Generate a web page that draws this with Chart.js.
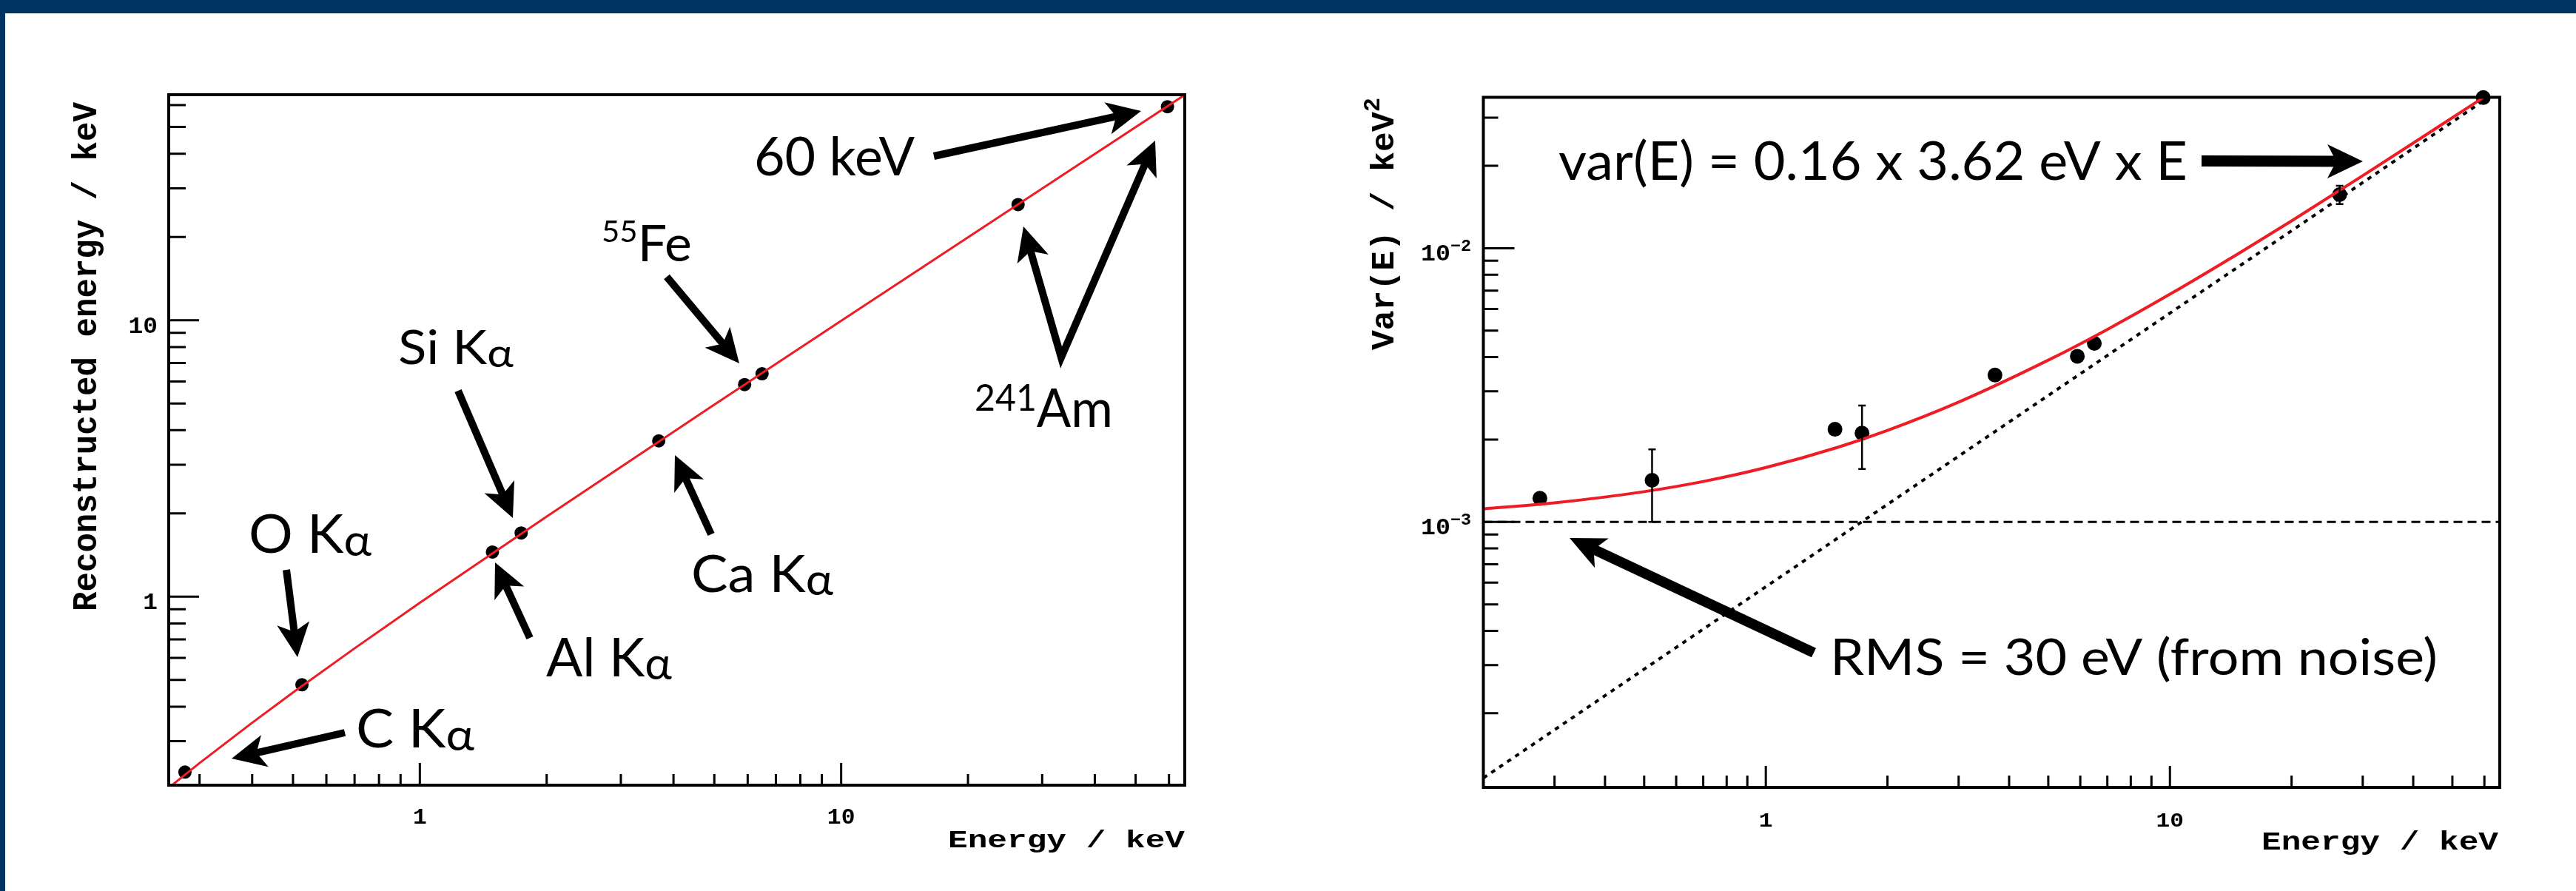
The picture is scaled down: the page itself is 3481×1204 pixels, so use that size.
<!DOCTYPE html>
<html>
<head>
<meta charset="utf-8">
<script src="https://cdn.jsdelivr.net/npm/chart.js@4.4.1/dist/chart.umd.min.js"></script>
<style>
  html, body { margin: 0; padding: 0; background: #fff; }
  #page { position: relative; width: 3481px; height: 1204px; overflow: hidden; background: #fff; }
  canvas { position: absolute; top: 0; }
  #left { left: 0; }
  #right { left: 1740px; }
  .band { position: absolute; background: #003462; z-index: 2; }
</style>
</head>
<body>
<div id="page">
  <canvas id="left" width="1740" height="1204"></canvas>
  <canvas id="right" width="1741" height="1204"></canvas>
  <div class="band" style="left:0;top:0;width:3481px;height:18px"></div>
  <div class="band" style="left:0;top:0;width:7px;height:1204px"></div>
</div>
<script>
// Left panel: reconstructed energy vs line energy (keV)
const lineEnergies = [0.277, 0.525, 1.487, 1.740, 3.69, 5.90, 6.49, 26.3, 59.5];
const reconstructed = [0.232, 0.480, 1.45, 1.70, 3.66, 5.85, 6.40, 26.2, 59.2];
// calibration fit
const calibFitE = [0.2575, 0.3, 0.4, 0.5, 0.7, 1, 2, 5, 10, 30, 65.5];
const calibFitReco = [0.2075, 0.25, 0.35, 0.45, 0.65, 0.95, 1.95, 4.95, 9.95, 29.95, 65.45];

// Right panel: variance vs energy (keV^2)
const varEnergies = [0.276, 0.523, 1.483, 1.73, 3.69, 5.90, 6.50, 26.3, 59.6];
const variance = [1.22e-3, 1.42e-3, 2.18e-3, 2.11e-3, 3.44e-3, 4.03e-3, 4.49e-3, 1.57e-2, 3.55e-2];
const varianceErr = [0, 0.42e-3, 0, 0.55e-3, 0, 0, 0, 1.2e-3, 0];
// red fit curve
const varFitE = [0.2, 0.3, 0.5, 0.7, 1, 1.5, 2, 3, 5, 7, 10, 15, 20, 30, 45, 61.5];
const varFit = [1.116e-3, 1.174e-3, 1.29e-3, 1.405e-3, 1.58e-3, 1.87e-3, 2.16e-3, 2.74e-3,
                3.9e-3, 5.05e-3, 6.79e-3, 9.69e-3, 12.58e-3, 18.4e-3, 27.1e-3, 36.6e-3];
// noise floor (dashed) and Fano term (dotted)
const noiseE = [0.2, 65.5];
const noiseVar = [1e-3, 1e-3];
const fanoE = [0.2, 61.5];
const fanoVar = [1.16e-4, 3.56e-2];

// ticks
const majorTicks = [1, 10];
const majorTickLabels = ['1', '10'];
const minorTicks = [0.3, 0.4, 0.5, 0.6, 0.7, 0.8, 0.9, 2, 3, 4, 5, 6, 7, 8, 9, 20, 30, 40, 50, 60];
const varMajorTicks = [1e-3, 1e-2];
const varTickExponents = ['\u22123', '\u22122'];
const varMinorTicks = [2e-4, 3e-4, 4e-4, 5e-4, 6e-4, 7e-4, 8e-4, 9e-4,
                       2e-3, 3e-3, 4e-3, 5e-3, 6e-3, 7e-3, 8e-3, 9e-3, 2e-2, 3e-2];

const RED = '#ee1c24';
const MONO = 'bold SIZE "Liberation Mono", "DejaVu Sans Mono", monospace';
const SANS = 'SIZE Lato, "Open Sans", sans-serif';
const pts = (xs, ys) => xs.map((x, i) => ({ x, y: ys[i] }));

const capCache = {};
function capRatio(ctx, fam) {
  if (!(fam in capCache)) {
    ctx.font = fam.replace('SIZE', '100px');
    capCache[fam] = ctx.measureText('H').actualBoundingBoxAscent / 100;
  }
  return capCache[fam];
}

// text fitted to a cap height and (optionally) a total width
function drawText(ctx, s) {
  const size = s.cap / capRatio(ctx, s.font);
  const font = k => s.font.replace('SIZE', (size * k).toFixed(2) + 'px');
  let W = 0;
  const widths = s.runs.map(r => {
    ctx.font = font(r.s || 1);
    const w = ctx.measureText(r.t).width;
    W += w;
    return w;
  });
  const sx = s.w ? s.w / W : (s.sx || 1);
  ctx.save();
  ctx.translate(s.x, s.y);
  if (s.vertical) ctx.rotate(-Math.PI / 2);
  ctx.scale(sx, 1);
  ctx.fillStyle = '#000';
  ctx.textAlign = 'left';
  ctx.textBaseline = 'alphabetic';
  let x = s.align === 'right' ? -W : s.align === 'center' ? -W / 2 : 0;
  s.runs.forEach((r, i) => {
    ctx.font = font(r.s || 1);
    ctx.fillText(r.t, x, (r.dy || 0) * size);
    x += widths[i];
  });
  ctx.restore();
}

function drawArrow(ctx, a) {
  const p = a.p.map(q => q.slice());
  const heads = [];
  const head = (tip, from) => {
    const dx = tip[0] - from[0], dy = tip[1] - from[1], l = Math.hypot(dx, dy);
    const ux = dx / l, uy = dy / l;
    heads.push({ tip: tip.slice(), ux, uy });
    return [tip[0] - ux * a.L * 0.65, tip[1] - uy * a.L * 0.65];
  };
  const n = p.length - 1;
  p[n] = head(p[n], p[n - 1]);
  if (a.both) p[0] = head(p[0], p[1]);
  ctx.save();
  ctx.strokeStyle = '#000';
  ctx.fillStyle = '#000';
  ctx.lineWidth = a.w;
  ctx.lineCap = 'butt';
  ctx.lineJoin = 'miter';
  ctx.miterLimit = 20;
  ctx.beginPath();
  ctx.moveTo(p[0][0], p[0][1]);
  for (let i = 1; i <= n; i++) ctx.lineTo(p[i][0], p[i][1]);
  ctx.stroke();
  heads.forEach(h => {
    const bx = h.tip[0] - h.ux * a.L, by = h.tip[1] - h.uy * a.L;
    const nx = h.tip[0] - h.ux * a.L * 0.75, ny = h.tip[1] - h.uy * a.L * 0.75;
    ctx.beginPath();
    ctx.moveTo(h.tip[0], h.tip[1]);
    ctx.lineTo(bx - h.uy * a.H, by + h.ux * a.H);
    ctx.lineTo(nx, ny);
    ctx.lineTo(bx + h.uy * a.H, by - h.ux * a.H);
    ctx.closePath();
    ctx.fill();
  });
  ctx.restore();
}

const sansText = (x, y, cap, w, runs) => ({ font: SANS, x, y, cap, w, runs });
const kAlpha = t => [{ t: t + ' K' }, { t: '\u03b1', s: 0.85, dy: 0.06 }];

const panels = {
  left: {
    xTicks: { major: majorTicks, minor: minorTicks, majLen: 30, minLen: 15 },
    yTicks: { major: majorTicks, minor: minorTicks, majLen: 41, minLen: 23 },
    xLabels: majorTicks.map((v, i) => ({ v, runs: [{ t: majorTickLabels[i] }] })),
    yLabels: majorTicks.map((v, i) => ({ v, runs: [{ t: majorTickLabels[i] }] })),
    xLabelStyle: { cap: 20, sx: 1.05, base: 1113 },
    yLabelStyle: { cap: 21, sx: 1.05, right: 213, dy: 17 },
    titles: [
      { font: MONO, runs: [{ t: 'Energy / keV' }], cap: 22, w: 320, x: 1601, y: 1145, align: 'right' },
      { font: MONO, runs: [{ t: 'Reconstructed energy / keV' }], cap: 31, w: 688, x: 130, y: 826, vertical: true }
    ],
    texts: [
      sansText(1019, 237, 53, 217, [{ t: '60 keV' }]),
      sansText(1317, 577, 53, 187, [{ t: '241', s: 0.7, dy: -0.30 }, { t: 'Am' }]),
      sansText(813, 353, 50, 122, [{ t: '55', s: 0.6, dy: -0.385 }, { t: 'Fe' }]),
      sansText(538, 492, 47, 156, kAlpha('Si')),
      sansText(336, 747, 52, 166, kAlpha('O')),
      sansText(738, 914, 53, 170, kAlpha('Al')),
      sansText(934, 800, 51, 192, kAlpha('Ca')),
      sansText(481, 1010, 52, 160, kAlpha('C'))
    ],
    arrows: [
      { p: [[1262, 211], [1542, 150]] },
      { p: [[1383, 306], [1434, 483], [1561, 190]], both: true },
      { p: [[901, 374], [999, 491]] },
      { p: [[619, 528], [693, 700]] },
      { p: [[387, 770], [402, 888]] },
      { p: [[716, 862], [669, 760]] },
      { p: [[961, 722], [912, 615]] },
      { p: [[466, 990], [313, 1025]] }
    ].map(a => Object.assign({ w: 10, L: 46, H: 22 }, a))
  },
  right: {
    xTicks: { major: majorTicks, minor: minorTicks, majLen: 29, minLen: 16 },
    yTicks: { major: varMajorTicks, minor: varMinorTicks, majLen: 42, minLen: 20 },
    xLabels: majorTicks.map((v, i) => ({ v, runs: [{ t: majorTickLabels[i] }] })),
    yLabels: varMajorTicks.map((v, i) => ({ v, runs: [{ t: '10' }, { t: varTickExponents[i], s: 0.7, dy: -0.42 }] })),
    xLabelStyle: { cap: 19, sx: 1.1, base: 1117 },
    yLabelStyle: { cap: 21, w: 68, right: 248, dy: 16.5 },
    titles: [
      { font: MONO, runs: [{ t: 'Energy / keV' }], cap: 23, w: 320, x: 1636, y: 1148, align: 'right' },
      { font: MONO, runs: [{ t: 'Var(E) / keV' }, { t: '2', s: 0.72, dy: -0.42 }], cap: 30, w: 341, x: 143, y: 473, vertical: true }
    ],
    texts: [
      sansText(366, 243, 52, 850, [{ t: 'var(E) = 0.16 x 3.62 eV x E' }]),
      sansText(733, 912, 49, 821, [{ t: 'RMS = 30 eV (from noise)' }])
    ],
    arrows: [
      { p: [[1235, 217.5], [1453, 218]], w: 15, L: 48, H: 23 },
      { p: [[711, 882], [381, 727]], w: 14, L: 48, H: 22 }
    ],
    errors: { dataset: 3, values: varianceErr }
  }
};

const rootPad = {
  id: 'rootPad',
  afterDatasetsDraw(chart) {
    const cfg = panels[chart.canvas.id];
    if (!cfg.errors) return;
    const { ctx, scales: { y } } = chart;
    const meta = chart.getDatasetMeta(cfg.errors.dataset);
    const vals = chart.data.datasets[cfg.errors.dataset].data;
    ctx.save();
    ctx.strokeStyle = '#000';
    ctx.lineWidth = 2.5;
    cfg.errors.values.forEach((e, i) => {
      if (!e) return;
      const px = meta.data[i].x;
      const y1 = y.getPixelForValue(vals[i].y + e), y2 = y.getPixelForValue(vals[i].y - e);
      ctx.beginPath();
      ctx.moveTo(px, y1); ctx.lineTo(px, y2);
      ctx.moveTo(px - 5, y1); ctx.lineTo(px + 5, y1);
      ctx.moveTo(px - 5, y2); ctx.lineTo(px + 5, y2);
      ctx.stroke();
    });
    ctx.restore();
  },
  afterDraw(chart) {
    const cfg = panels[chart.canvas.id];
    const { ctx, chartArea: a, scales: { x, y } } = chart;
    const inX = v => v >= x.min && v <= x.max;
    const inY = v => v >= y.min && v <= y.max;
    ctx.save();
    ctx.strokeStyle = '#000';
    ctx.lineWidth = 3;
    ctx.beginPath();
    const xt = cfg.xTicks, yt = cfg.yTicks;
    xt.minor.filter(inX).forEach(v => { const p = x.getPixelForValue(v); ctx.moveTo(p, a.bottom); ctx.lineTo(p, a.bottom - xt.minLen); });
    xt.major.filter(inX).forEach(v => { const p = x.getPixelForValue(v); ctx.moveTo(p, a.bottom); ctx.lineTo(p, a.bottom - xt.majLen); });
    yt.minor.filter(inY).forEach(v => { const p = y.getPixelForValue(v); ctx.moveTo(a.left, p); ctx.lineTo(a.left + yt.minLen, p); });
    yt.major.filter(inY).forEach(v => { const p = y.getPixelForValue(v); ctx.moveTo(a.left, p); ctx.lineTo(a.left + yt.majLen, p); });
    ctx.stroke();
    ctx.lineWidth = 4;
    ctx.strokeRect(a.left, a.top, a.right - a.left, a.bottom - a.top);
    ctx.restore();

    const xs = cfg.xLabelStyle, ys = cfg.yLabelStyle;
    cfg.xLabels.forEach(l => drawText(ctx, { font: MONO, runs: l.runs, cap: xs.cap, sx: xs.sx,
      x: x.getPixelForValue(l.v), y: xs.base, align: 'center' }));
    cfg.yLabels.forEach(l => drawText(ctx, { font: MONO, runs: l.runs, cap: ys.cap, sx: ys.sx, w: ys.w,
      x: ys.right, y: y.getPixelForValue(l.v) + ys.dy, align: 'right' }));
    cfg.titles.forEach(t => drawText(ctx, t));
    cfg.texts.forEach(t => drawText(ctx, t));
    cfg.arrows.forEach(ar => drawArrow(ctx, ar));
  }
};

const baseOptions = (padding, xr, yr) => ({
  responsive: false,
  animation: false,
  devicePixelRatio: 1,
  events: [],
  layout: { padding },
  scales: {
    x: { type: 'logarithmic', min: xr[0], max: xr[1], display: false },
    y: { type: 'logarithmic', min: yr[0], max: yr[1], display: false }
  },
  plugins: { legend: { display: false }, tooltip: { enabled: false } }
});

// Left: energy calibration
new Chart(document.getElementById('left'), {
  type: 'scatter',
  data: {
    datasets: [
      { data: pts(calibFitE, calibFitReco), showLine: true, borderColor: RED, borderWidth: 3,
        pointRadius: 0, order: 0 },
      { data: pts(lineEnergies, reconstructed), pointRadius: 9, pointBackgroundColor: '#000',
        pointBorderWidth: 0, order: 1, clip: false }
    ]
  },
  options: baseOptions({ left: 228, right: 139, top: 128, bottom: 143 }, [0.2535, 65.4], [0.208, 65.4]),
  plugins: [rootPad]
});

// Right: energy variance
new Chart(document.getElementById('right'), {
  type: 'scatter',
  data: {
    datasets: [
      { data: pts(varFitE, varFit), showLine: true, borderColor: RED, borderWidth: 4,
        cubicInterpolationMode: 'monotone', pointRadius: 0, order: 0 },
      { data: pts(noiseE, noiseVar), showLine: true, borderColor: '#000', borderWidth: 3,
        borderDash: [12, 7], pointRadius: 0, order: 2 },
      { data: pts(fanoE, fanoVar), showLine: true, borderColor: '#000', borderWidth: 4,
        borderDash: [6, 7], pointRadius: 0, order: 2 },
      { data: pts(varEnergies, variance), pointRadius: 10, pointBackgroundColor: '#000',
        pointBorderWidth: 0, order: 1, clip: false }
    ]
  },
  options: baseOptions({ left: 264.5, right: 103, top: 131.5, bottom: 140 }, [0.2, 65.5], [1.072e-4, 0.03558]),
  plugins: [rootPad]
});
</script>
</body>
</html>
